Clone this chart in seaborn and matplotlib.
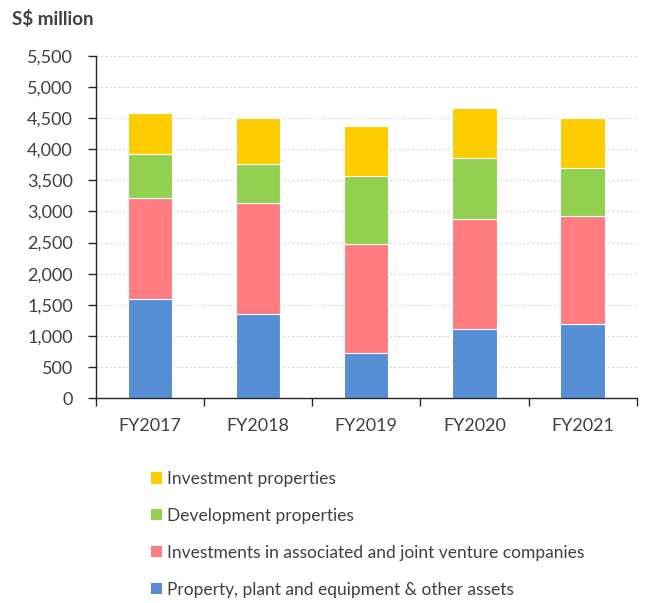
import matplotlib
matplotlib.use("Agg")
import matplotlib.pyplot as plt
import seaborn as sns
import pandas as pd
import numpy as np
from matplotlib.patches import Patch
from matplotlib.ticker import FuncFormatter, MultipleLocator

years = ["FY2017", "FY2018", "FY2019", "FY2020", "FY2021"]
ppe = [1600, 1358, 732, 1117, 1198]
assoc = [1615, 1772, 1740, 1767, 1724]
devprop = [711, 636, 1097, 979, 781]
invprop = [658, 739, 797, 792, 792]

series_names = [
    "Property, plant and equipment & other assets",
    "Investments in associated and joint venture companies",
    "Development properties",
    "Investment properties",
]
series_vals = [ppe, assoc, devprop, invprop]
colors = ["#558ED5", "#FF7C80", "#92D050", "#FFCC00"]

sns.set_theme(style="white")
plt.rcParams["font.family"] = ["Lato", "DejaVu Sans"]
text_color = "#404040"

fig = plt.figure(figsize=(6.46, 6.03), dpi=100)
ax = fig.add_axes([95.7 / 646, 1 - 398.3 / 603, 541 / 646, (398.3 - 55.7) / 603])

df = pd.DataFrame({"year": years})
bottom = np.zeros(len(years))
for name, vals, c in zip(series_names, series_vals, colors):
    df["v"] = vals
    sns.barplot(data=df, x="year", y="v", color=c, bottom=bottom, width=0.41,
                ax=ax, saturation=1, linewidth=0.8, edgecolor="white", errorbar=None)
    bottom = bottom + np.array(vals)

ax.set_ylim(0, 5500)
ax.set_xlim(-0.5, 4.5)
ax.yaxis.set_major_locator(MultipleLocator(500))
ax.yaxis.set_major_formatter(FuncFormatter(lambda v, p: f"{int(v):,}"))
ax.set_xlabel("")
ax.set_ylabel("")
ax.grid(axis="y", color="#D9D9D9", linestyle=(0, (2, 2)), linewidth=0.8)
ax.set_axisbelow(True)
for s in ["top", "right"]:
    ax.spines[s].set_visible(False)
for s in ["left", "bottom"]:
    ax.spines[s].set_color("#262626")
    ax.spines[s].set_linewidth(1.0)

ax.set_xticks(np.arange(len(years)))
ax.set_xticklabels(years)
ax.set_xticks(np.arange(-0.5, len(years), 1.0), minor=True)
ax.tick_params(axis="x", which="major", length=0, pad=14, labelsize=13, labelcolor=text_color)
ax.tick_params(axis="x", which="minor", length=6, width=1, color="#262626", direction="out", bottom=True)
ax.tick_params(axis="y", which="major", length=6, width=1, color="#262626", direction="out",
               left=True, labelsize=13, labelcolor=text_color, pad=10.5)

fig.text(12 / 646, 1 - 19 / 603, "S$ million", fontsize=13.5, fontweight="bold",
         color=text_color, va="center", ha="left")

handles = [Patch(facecolor=c, edgecolor="none") for c in colors][::-1]
labels = series_names[::-1]
leg = fig.legend(handles, labels, loc="upper left", bbox_to_anchor=(151 / 646, 1 - 471 / 603),
                 frameon=False, fontsize=12.5, labelspacing=1.2, handlelength=0.62,
                 handleheight=0.62, handletextpad=0.3, borderaxespad=0, borderpad=0)
for t in leg.get_texts():
    t.set_color(text_color)

fig.savefig("out.png", dpi=100)
